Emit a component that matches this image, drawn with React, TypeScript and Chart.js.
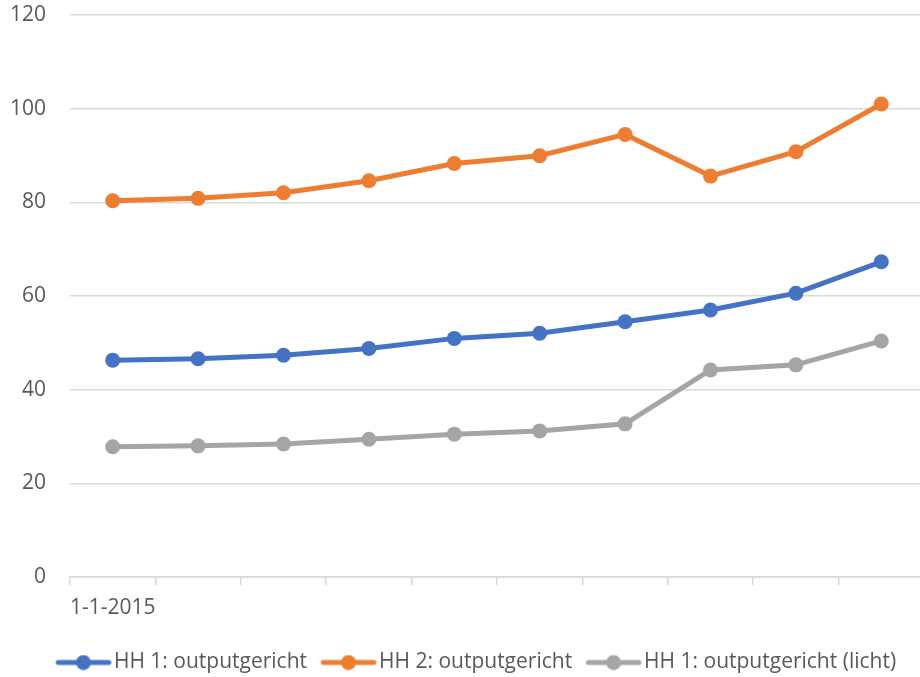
import React, { useEffect, useRef } from "react";
import { Chart, registerables } from "chart.js";

Chart.register(...registerables);

const categories = [
  "1-1-2015", "1-1-2016", "1-1-2017", "1-1-2018", "1-1-2019",
  "1-1-2020", "1-1-2021", "1-1-2022", "1-1-2023", "1-1-2024",
];
const hh1Output = [46.3, 46.6, 47.35, 48.8, 50.95, 52.05, 54.5, 57.0, 60.6, 67.3];
const hh2Output = [80.35, 80.85, 82.05, 84.6, 88.3, 89.95, 94.5, 85.6, 90.8, 101.0];
const hh1Licht = [27.8, 28.0, 28.4, 29.4, 30.5, 31.2, 32.7, 44.2, 45.3, 50.4];
const yTicks = [0, 20, 40, 60, 80, 100, 120];

const seriesNames = ["HH 1: outputgericht", "HH 2: outputgericht", "HH 1: outputgericht (licht)"];
const seriesColors = ["#4472C4", "#ED7D31", "#A5A5A5"];

const FONT = "'Open Sans', sans-serif";
const TEXT = "#595959";
const GRID = "#D9D9D9";

// legend icon: line + dot, placed so the line starts at the item's x
function legendIcon(color: string): HTMLCanvasElement {
  const c = document.createElement("canvas");
  c.width = 64;
  c.height = 16;
  const ctx = c.getContext("2d")!;
  ctx.strokeStyle = color;
  ctx.lineWidth = 5;
  ctx.lineCap = "round";
  ctx.beginPath();
  ctx.moveTo(10.5, 8);
  ctx.lineTo(61, 8);
  ctx.stroke();
  ctx.fillStyle = color;
  ctx.beginPath();
  ctx.arc(35.75, 8, 7.5, 0, Math.PI * 2);
  ctx.fill();
  return c;
}

const legendShift = {
  id: "legendShift",
  afterLayout(chart: any) {
    const lg = chart.legend;
    if (!lg) return;
    lg.left += 14;
    lg.right += 14;
    lg.top += 6;
    lg.bottom += 6;
  },
};

export default function App() {
  const ref = useRef<HTMLCanvasElement>(null);
  useEffect(() => {
    document.body.style.margin = "0";
    const values = [hh1Output, hh2Output, hh1Licht];
    const icons = seriesColors.map(legendIcon);
    const chart = new Chart(ref.current!, {
      type: "line",
      plugins: [legendShift],
      data: {
        labels: categories,
        datasets: seriesNames.map((name, i) => ({
          label: name,
          data: values[i],
          borderColor: seriesColors[i],
          backgroundColor: seriesColors[i],
          borderWidth: 5,
          pointRadius: 7.5,
          pointHoverRadius: 7.5,
          pointBorderWidth: 0,
          pointBackgroundColor: seriesColors[i],
          tension: 0,
          clip: false,
        })),
      },
      options: {
        animation: false,
        responsive: true,
        maintainAspectRatio: false,
        layout: { autoPadding: false, padding: { top: 15, bottom: 0, left: 0, right: 0 } },
        plugins: {
          tooltip: { enabled: false },
          legend: {
            position: "bottom",
            labels: {
              usePointStyle: true,
              pointStyleWidth: 47.5,
              padding: 14,
              color: TEXT,
              font: { family: FONT, size: 21 },
              generateLabels: (ch: any) =>
                ch.data.datasets.map((ds: any, i: number) => ({
                  text: ds.label,
                  fillStyle: seriesColors[i],
                  strokeStyle: seriesColors[i],
                  fontColor: TEXT,
                  lineWidth: 0,
                  pointStyle: icons[i],
                  hidden: false,
                  datasetIndex: i,
                })),
            },
          },
        },
        scales: {
          x: {
            offset: true,
            grid: {
              offset: true,
              drawOnChartArea: false,
              drawTicks: true,
              tickLength: 8,
              color: GRID,
              lineWidth: 1.5,
            },
            border: { display: true, color: GRID, width: 1.5 },
            ticks: {
              autoSkip: false,
              maxRotation: 0,
              padding: 10,
              color: TEXT,
              font: { family: FONT, size: 21 },
              callback: (_v: any, idx: number) => (idx === 0 ? categories[0] : ""),
            },
            afterFit: (s: any) => {
              const lh = s.chart.legend ? s.chart.legend.height : 45;
              s.height = 100 - lh;
              s.paddingLeft = 0;
              s.paddingRight = 0;
            },
          },
          y: {
            min: 0,
            max: 120,
            afterBuildTicks: (s: any) => {
              s.ticks = yTicks.map((v) => ({ value: v }));
            },
            grid: { color: GRID, lineWidth: 1.5, drawTicks: false },
            border: { display: false },
            ticks: {
              padding: 24,
              color: TEXT,
              font: { family: FONT, size: 21 },
            },
            afterFit: (s: any) => {
              s.width = 70;
              s.paddingTop = 0;
              s.paddingBottom = 0;
            },
          },
        },
      },
    });
    return () => chart.destroy();
  }, []);
  return (
    <div style={{ width: 920, height: 677, overflow: "hidden", position: "relative" }}>
      <div style={{ width: 924, height: 677, position: "relative" }}>
        <canvas ref={ref} />
      </div>
    </div>
  );
}
